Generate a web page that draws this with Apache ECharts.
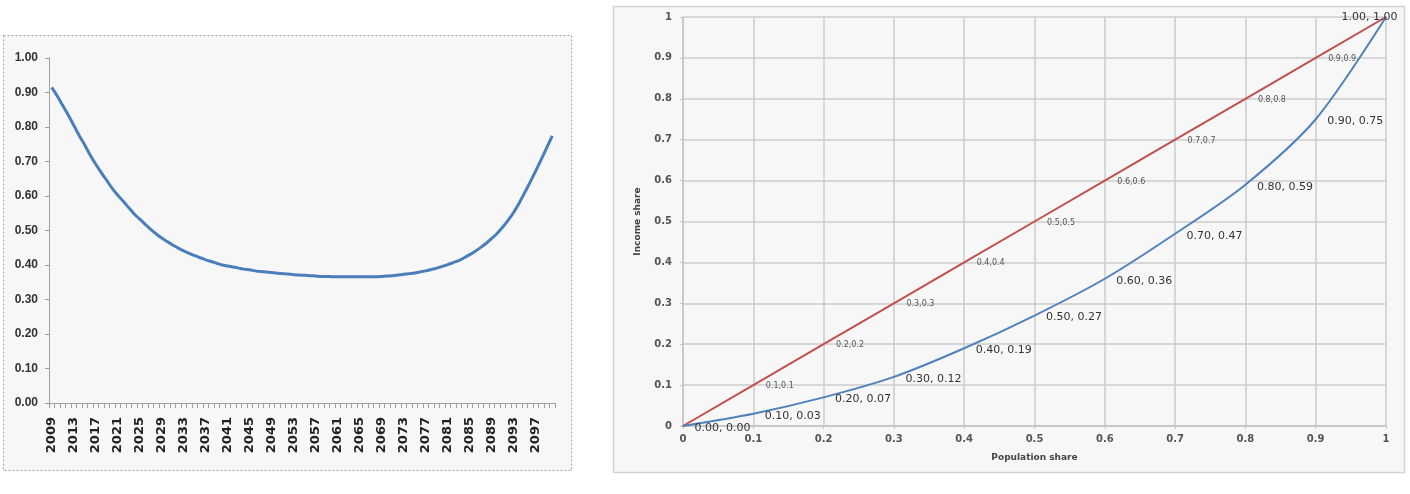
<!DOCTYPE html>
<html>
<head>
<meta charset="utf-8">
<script src="https://cdn.jsdelivr.net/npm/echarts@6/dist/echarts.min.js"></script>
<style>html,body{margin:0;padding:0;background:#fff}#c{width:1410px;height:494px}</style>
</head>
<body>
<div id="c"></div>
<script>
// Left chart: yearly series 2009-2100
const years = [];
for (let y = 2009; y <= 2100; y++) years.push(String(y));
const yearValues = [
 0.915,0.890,0.862,0.835,0.805,0.775,0.748,0.718,0.692,0.668,
 0.645,0.622,0.602,0.585,0.566,0.548,0.533,0.518,0.503,0.490,
 0.478,0.468,0.458,0.449,0.441,0.434,0.427,0.421,0.415,0.410,
 0.405,0.400,0.397,0.394,0.391,0.388,0.386,0.383,0.381,0.380,
 0.378,0.376,0.375,0.374,0.372,0.371,0.370,0.369,0.368,0.367,
 0.367,0.366,0.366,0.366,0.366,0.366,0.366,0.366,0.366,0.366,
 0.367,0.368,0.369,0.371,0.373,0.375,0.377,0.380,0.383,0.387,
 0.391,0.396,0.401,0.407,0.413,0.421,0.430,0.440,0.451,0.463,
 0.477,0.492,0.510,0.530,0.553,0.580,0.610,0.641,0.673,0.706,
 0.740,0.774
];
const leftYTicks = ['0.00','0.10','0.20','0.30','0.40','0.50','0.60','0.70','0.80','0.90','1.00'];

// Right chart: Lorenz curve
const populationShare = [0,0.1,0.2,0.3,0.4,0.5,0.6,0.7,0.8,0.9,1];
const incomeShare = [0,0.03,0.07,0.12,0.19,0.27,0.36,0.47,0.59,0.75,1.00];
const equalityShare = [0,0.1,0.2,0.3,0.4,0.5,0.6,0.7,0.8,0.9,1];

const chart = echarts.init(document.getElementById('c'), null, {renderer: 'canvas'});

const lorenzData = populationShare.map((x, i) => {
  const d = {value: [x, incomeShare[i]]};
  if (i === populationShare.length - 1) {
    d.label = {position: 'left', distance: 5, offset: [17, 0]};
  }
  return d;
});
const equalData = populationShare.map((x, i) => {
  const d = {value: [x, equalityShare[i]]};
  if (i === 0 || i === populationShare.length - 1) d.label = {show: false};
  return d;
});

const option = {
  backgroundColor: '#ffffff',
  animation: false,
  graphic: [
    {type: 'rect', z: -10, shape: {x: 3.5, y: 35.5, width: 568, height: 435},
     style: {fill: '#f7f7f7', stroke: '#a0a0a0', lineWidth: 1, lineDash: [2, 2]}},
    {type: 'rect', z: -10, shape: {x: 613.5, y: 6.5, width: 791, height: 466},
     style: {fill: '#f7f7f7', stroke: '#d2d2d2', lineWidth: 1.5}}
  ],
  grid: [
    {left: 49, right: 855, top: 58, bottom: 91},
    {left: 683, right: 24, top: 17, bottom: 68}
  ],
  xAxis: [
    {
      gridIndex: 0, type: 'category', data: years, boundaryGap: true,
      axisLine: {lineStyle: {color: '#a0a0a0', width: 1}},
      axisTick: {show: true, interval: 0, length: 5, lineStyle: {color: '#a0a0a0'}},
      axisLabel: {interval: 3, rotate: 90, margin: 14, color: '#222',
        fontFamily: 'DejaVu Sans', fontWeight: 'bold', fontSize: 13},
      splitLine: {show: false}
    },
    {
      gridIndex: 1, type: 'value', min: 0, max: 1, interval: 0.1,
      name: 'Population share', nameLocation: 'middle', nameGap: 27,
      nameTextStyle: {color: '#444', fontFamily: 'DejaVu Sans', fontWeight: 'bold', fontSize: 9},
      axisLine: {show: true, lineStyle: {color: '#c4c4c4', width: 1.5}},
      axisTick: {show: true, length: 3, lineStyle: {color: '#c4c4c4'}},
      axisLabel: {margin: 8, color: '#555', fontFamily: 'DejaVu Sans', fontWeight: 'bold', fontSize: 10},
      splitLine: {show: true, lineStyle: {color: '#cdcdcd', width: 1.5}}
    }
  ],
  yAxis: [
    {
      gridIndex: 0, type: 'value', min: 0, max: 1, interval: 0.1,
      axisLine: {show: true, lineStyle: {color: '#a0a0a0', width: 1}},
      axisTick: {show: true, length: 4, lineStyle: {color: '#a0a0a0'}},
      axisLabel: {margin: 11, color: '#333', fontFamily: 'Liberation Sans', fontWeight: 'bold', fontSize: 12,
        formatter: (v) => leftYTicks[Math.round(v * 10)]},
      splitLine: {show: false}
    },
    {
      gridIndex: 1, type: 'value', min: 0, max: 1, interval: 0.1,
      name: 'Income share', nameLocation: 'middle', nameGap: 41, nameRotate: 90,
      nameTextStyle: {color: '#444', fontFamily: 'DejaVu Sans', fontWeight: 'bold', fontSize: 9},
      axisLine: {show: true, lineStyle: {color: '#c4c4c4', width: 1.5}},
      axisTick: {show: true, length: 3, lineStyle: {color: '#c4c4c4'}},
      axisLabel: {margin: 11, color: '#555', fontFamily: 'DejaVu Sans', fontWeight: 'bold', fontSize: 10},
      splitLine: {show: true, lineStyle: {color: '#cdcdcd', width: 1.5}}
    }
  ],
  series: [
    {
      type: 'line', xAxisIndex: 0, yAxisIndex: 0, data: yearValues,
      showSymbol: false, smooth: 0.3,
      lineStyle: {color: '#4a7ebb', width: 3}
    },
    {
      type: 'line', xAxisIndex: 1, yAxisIndex: 1, data: equalData,
      symbol: 'circle', symbolSize: 1, itemStyle: {color: '#c0504d'},
      lineStyle: {color: '#c0504d', width: 2},
      label: {show: true, position: 'right', distance: 12, offset: [0, 1],
        fontFamily: 'DejaVu Sans', fontSize: 8, color: '#555',
        formatter: (p) => p.value[0] + ',' + p.value[1]}
    },
    {
      type: 'line', xAxisIndex: 1, yAxisIndex: 1, data: lorenzData,
      symbol: 'circle', symbolSize: 1, itemStyle: {color: '#4f81bd'},
      smooth: 0.3,
      lineStyle: {color: '#4f81bd', width: 2},
      label: {show: true, position: 'right', distance: 11, offset: [0, 2],
        fontFamily: 'DejaVu Sans', fontSize: 11, color: '#333',
        formatter: (p) => p.value[0].toFixed(2) + ', ' + p.value[1].toFixed(2)}
    }
  ]
};
chart.setOption(option);
</script>
</body>
</html>
